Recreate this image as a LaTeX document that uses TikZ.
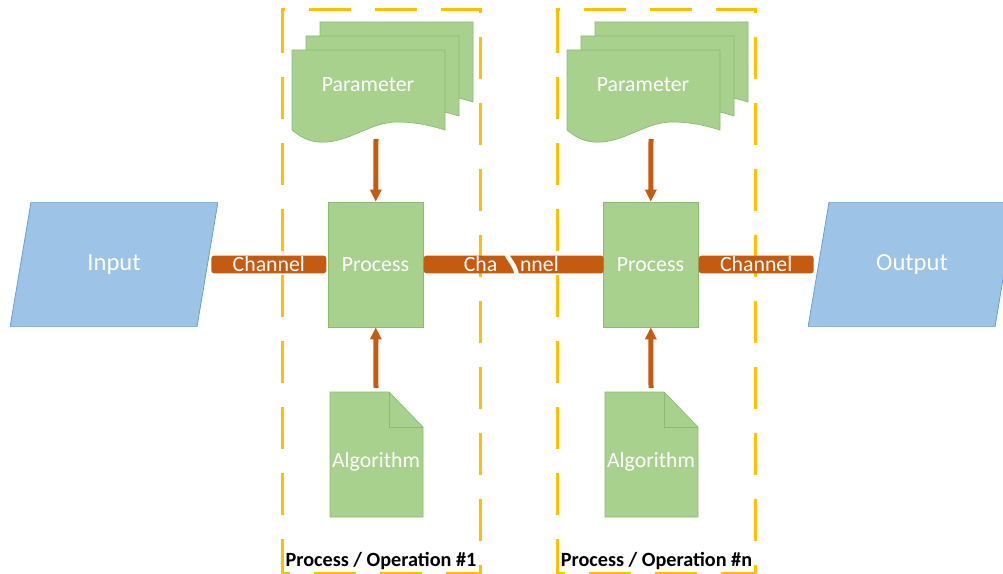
\documentclass[tikz,border=0pt]{standalone}
\usepackage{fontspec}
\setmainfont{Carlito}
\usetikzlibrary{arrows.meta,positioning}
\definecolor{chanorange}{HTML}{C55A11}
\definecolor{stagegold}{HTML}{FFC000}
\definecolor{docfill}{HTML}{A9D18E}
\definecolor{docline}{HTML}{8CBB70}
\definecolor{iofill}{HTML}{9DC3E6}
\definecolor{ioline}{HTML}{5B9BD5}
\tikzset{
io/.style={rectangle, minimum width=4.16cm, minimum height=2.5cm, inner sep=0pt, text=white, font=\fontsize{14}{17}\selectfont,
  path picture={\draw[draw=ioline, fill=iofill] (path picture bounding box.south west)
    -- ([xshift=0.42cm]path picture bounding box.north west) -- (path picture bounding box.north east)
    -- ([xshift=-0.42cm]path picture bounding box.south east) -- cycle;}},
process/.style={rectangle, draw=docline, fill=docfill, minimum width=1.9cm, minimum height=2.5cm, inner sep=0pt, text=white, font=\fontsize{12.4}{15}\selectfont},
chan/.style={rectangle, rounded corners=0.06cm, fill=chanorange, minimum height=0.36cm, minimum width=2.3cm, inner sep=0pt, text=white, font=\fontsize{12.4}{15}\selectfont},
chantext/.style={inner sep=0pt, text=white, font=\fontsize{12.4}{15}\selectfont},
docshape/.style={draw=docline, fill=docfill},
doctext/.style={text=white, font=\fontsize{12.4}{15}\selectfont},
stage/.style={draw=stagegold, line width=0.06cm, dash pattern=on 0.84cm off 0.48cm},
stagelabel/.style={inner sep=0pt, font=\bfseries\fontsize{11.5}{14}\selectfont},
flow/.style={draw=chanorange, line width=0.1cm, -{Triangle[width=0.22cm,length=0.24cm]}},
paramdoc/.pic={
  \foreach \s in {28,14,0}
    \draw[docshape, shift={(\s,-\s)}] (0,0) -- (153,0) -- (153,80)
      .. controls (140,76) and (125,72) .. (105,72)
      .. controls (80,72) and (60,90) .. (35,92)
      .. controls (22,93) and (12,90) .. (0,80) -- cycle;
  \node[doctext] (-text) at (76,35) {Parameter};
  \coordinate (-out) at (84,89);
},
algdoc/.pic={
  \draw[docshape] (0,0) -- (59,0) -- (93,35) -- (93,125) -- (0,125) -- cycle;
  \draw[draw=docline] (59,0) -- (59,35) -- (93,35);
  \node[doctext] (-text) at (46,70) {Algorithm};
  \coordinate (-in) at (46,-4);
}
}

\begin{document}
\begin{tikzpicture}[x=0.02cm, y=-0.02cm]
    \clip (0,0) rectangle (1003,574);
    % Stage frames
    \draw[stage] (282,49) -- (282,10) -- (480,10) -- (480,573) -- (282,573) -- cycle;
    \draw[stage] (557,49) -- (557,10) -- (755,10) -- (755,573) -- (557,573) -- cycle;
    \node[stagelabel, anchor=base] (label1) at (381,566.5) {Process / Operation \#1};
    \node[stagelabel, anchor=base] (label2) at (656.5,566.5) {Process / Operation \#n};
    % Place nodes
    \node[io] (input) at (114,264.5) {Input};
    \node[io] (output) at (912,264.5) {Output};
    \node[process] (proc1) at (375.5,264.5) {Process};
    \node[process] (proc2) at (650.5,264.5) {Process};
    \node[chan, left=0.02cm of proc1] (chan1) {Channel};
    \node[chan, minimum width=3.6cm, right=0pt of proc1] (chan2) {};
    \node[chan, right=0pt of proc2] (chan3) {Channel};
    \node[chantext, anchor=east] (chan2a) at ([xshift=-0.32cm]chan2.center) {Cha};
    \node[chantext, anchor=west] (chan2b) at ([xshift=0.12cm]chan2.center) {nnel};
    \draw[white, line width=0.09cm] (506,250) .. controls (506,259) and (515,262) .. (517,276);
    \pic (param1) at (292,50) {paramdoc};
    \pic (param2) at (567,50) {paramdoc};
    \pic (alg1) at (330,392) {algdoc};
    \pic (alg2) at (605,392) {algdoc};
    % Draw edges
    \path[flow] (param1-out) -- (proc1);
    \path[flow] (param2-out) -- (proc2);
    \path[flow] (alg1-in) -- (proc1);
    \path[flow] (alg2-in) -- (proc2);
\end{tikzpicture}
\end{document}
